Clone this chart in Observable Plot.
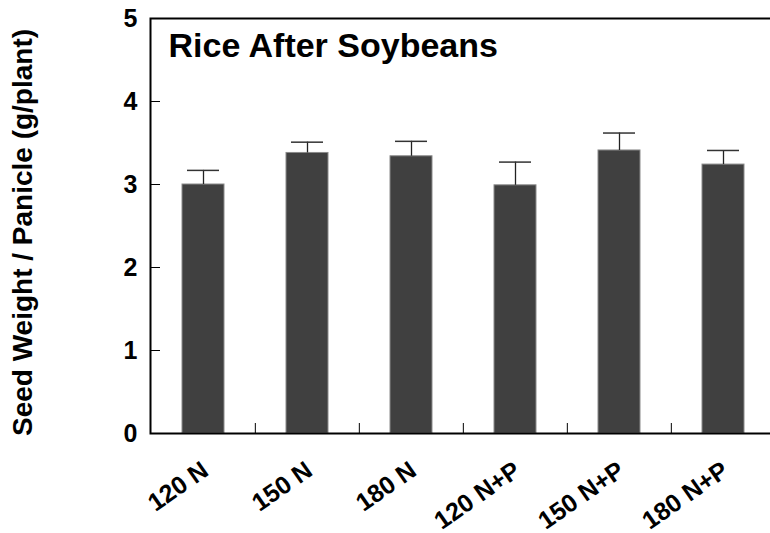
<!DOCTYPE html>
<html>
<head>
<meta charset="utf-8">
<script src="https://cdn.jsdelivr.net/npm/d3@7"></script>
<script src="https://cdn.jsdelivr.net/npm/@observablehq/plot@0.6"></script>
<style>
  html, body { margin: 0; padding: 0; background: white; }
  #chart svg { max-width: none; }
</style>
</head>
<body>
<div id="chart"></div>
<script>
const categories = ["120 N", "150 N", "180 N", "120 N+P", "150 N+P", "180 N+P"];
const means = [3.00, 3.38, 3.34, 2.99, 3.41, 3.24];
const errors = [0.17, 0.13, 0.18, 0.28, 0.21, 0.17];
const yTicks = [0, 1, 2, 3, 4, 5];
const chartTitle = "Rice After Soybeans";
const yLabel = "Seed Weight / Panicle (g/plant)";

const data = categories.map((c, i) => ({cat: c, mean: means[i], top: means[i] + errors[i]}));

const W = 770, H = 533, mL = 150, mR = -6, mT = 18, mB = 100;
const step = (W - mL - mR) / categories.length;
const font = "Liberation Sans, Arial, Helvetica, sans-serif";

const plot = Plot.plot({
  width: W,
  height: H,
  marginLeft: mL,
  marginRight: mR,
  marginTop: mT,
  marginBottom: mB,
  style: {fontFamily: font, fontWeight: "bold", color: "black", background: "white"},
  x: {domain: categories, paddingInner: 0.6, paddingOuter: 0.3, axis: null},
  y: {domain: [0, 5], axis: null},
  marks: [
    Plot.barY(data, {x: "cat", y: "mean", fill: "#404040", stroke: "#8a8a8a", strokeWidth: 1}),
    Plot.ruleX(data, {x: "cat", y1: "mean", y2: "top", stroke: "#222", strokeWidth: 1.3}),
    Plot.tickY(data, {x: "cat", y: "top", stroke: "#333", strokeWidth: 1.5, insetLeft: 5, insetRight: 5}),
    // inward y ticks
    Plot.tickY(yTicks, {y: d => d, stroke: "black", strokeWidth: 1, insetRight: W - mL - mR - 10}),
    // inward x ticks between categories
    Plot.tickX(categories.slice(1), {x: d => d, dx: -step / 2, stroke: "black", strokeWidth: 1, insetTop: H - mT - mB - 10}),
    Plot.frame({stroke: "black", strokeWidth: 2}),
    // y tick labels
    Plot.text(yTicks, {y: d => d, text: d => String(d), frameAnchor: "left", dx: -13, textAnchor: "end", fontSize: 25, fontWeight: "bold", fill: "black", fontFamily: font}),
    // x tick labels
    Plot.text(categories, {x: d => d, text: d => d, frameAnchor: "bottom", dx: 2, dy: 34, rotate: -35, textAnchor: "end", lineAnchor: "middle", fontSize: 25, fontWeight: "bold", fill: "black", fontFamily: font}),
    Plot.text([chartTitle], {frameAnchor: "top-left", dx: 18, dy: 14, lineAnchor: "top", textAnchor: "start", fontSize: 34, fontWeight: "bold", fill: "black", fontFamily: font}),
    Plot.text([yLabel], {frameAnchor: "left", dx: -127, dy: 6.5, rotate: -90, textAnchor: "middle", fontSize: 28, fontWeight: "bold", fill: "black", fontFamily: font})
  ]
});
document.getElementById("chart").appendChild(plot);
</script>
</body>
</html>
